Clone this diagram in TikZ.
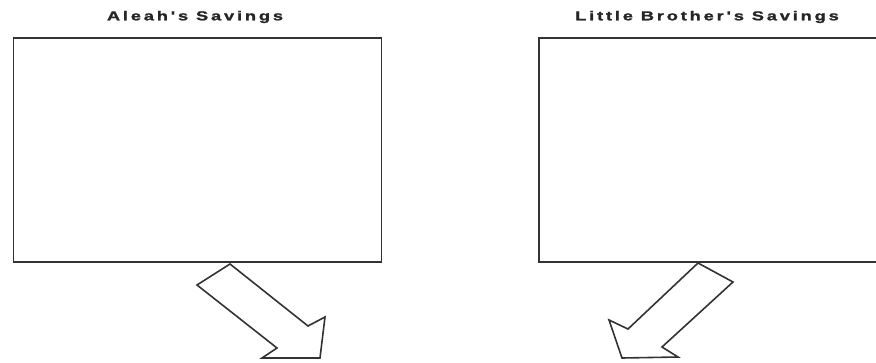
\documentclass[tikz,border=0pt]{standalone}
\usepackage{fontspec}
\newfontfamily\titlefont{Liberation Sans}[FakeStretch=1.4,LetterSpace=22,FakeBold=1.5]
\begin{document}
\begin{tikzpicture}[x=1pt,y=-1pt,
  title/.style={font=\titlefont\bfseries\fontsize{13}{15}\selectfont, text=black!85, inner sep=0pt, anchor=center},
  savebox/.style={draw=black!80, line width=1.8pt, inner sep=0pt},
  blockarrow/.style={draw=black!80, line width=1.6pt, line join=miter, fill=white}]
\useasboundingbox (0,0) rectangle (876,362);
\clip (0,0) rectangle (876,362);
% titles
\node[title] (t1) at (195,17) {Aleah's Savings};
\node[title] (t2) at (707,17) {Little Brother's Savings};
% boxes
\node[savebox, minimum width=368pt, minimum height=224pt] (b1) at (197.5,150) {};
\node[savebox, minimum width=360pt, minimum height=224pt, anchor=west] (b2) at (538,150) {};
% arrows
\draw[blockarrow] (230,264) -- (197,285) -- (277,348) -- (262,358) -- (320,358) -- (325,317) -- (308,326) -- cycle;
\draw[blockarrow] (698,263) -- (733,282) -- (662,347) -- (678,357) -- (622,358) -- (609,320) -- (628,329) -- cycle;
\end{tikzpicture}
\end{document}
